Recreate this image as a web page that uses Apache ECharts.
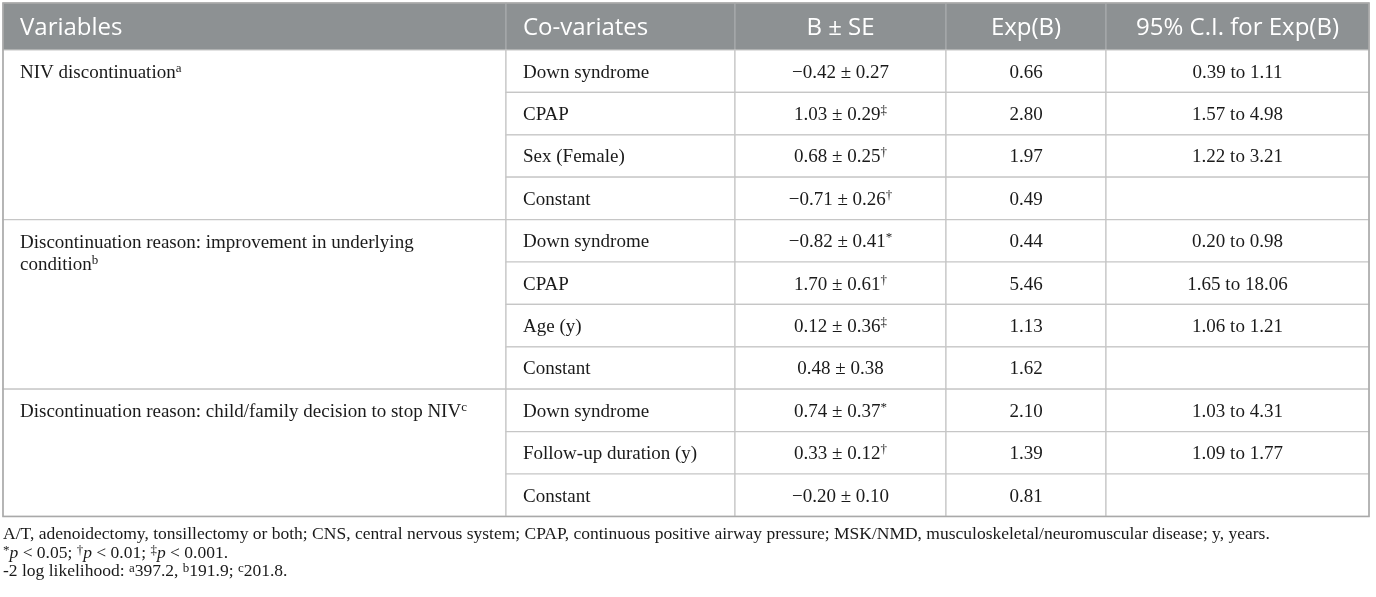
<!DOCTYPE html>
<html lang="en">
<head>
<meta charset="UTF-8">
<title>NIV discontinuation</title>
<script src="https://cdn.jsdelivr.net/npm/echarts@6/dist/echarts.min.js"></script>
<style>html,body{margin:0;padding:0;background:#fff;}</style>
</head>
<body>
<div id="main" style="width:1376px;height:597px;"></div>
<script>
// table content
var headers = ['Variables', 'Co-variates', 'B \u00b1 SE', 'Exp(B)', '95% C.I. for Exp(B)'];
var variables = [
  'NIV discontinuation{sup|a}',
  'Discontinuation reason: improvement in underlying\ncondition{sup|b}',
  'Discontinuation reason: child/family decision to stop NIV{sup|c}'
];
var groupSizes = [4, 4, 3];
var covariates = ['Down syndrome', 'CPAP', 'Sex (Female)', 'Constant',
  'Down syndrome', 'CPAP', 'Age (y)', 'Constant',
  'Down syndrome', 'Follow-up duration (y)', 'Constant'];
var bSE = ['\u22120.42 \u00b1 0.27', '1.03 \u00b1 0.29{sup|\u2021}', '0.68 \u00b1 0.25{sup|\u2020}', '\u22120.71 \u00b1 0.26{sup|\u2020}',
  '\u22120.82 \u00b1 0.41{sup|*}', '1.70 \u00b1 0.61{sup|\u2020}', '0.12 \u00b1 0.36{sup|\u2021}', '0.48 \u00b1 0.38',
  '0.74 \u00b1 0.37{sup|*}', '0.33 \u00b1 0.12{sup|\u2020}', '\u22120.20 \u00b1 0.10'];
var expB = ['0.66', '2.80', '1.97', '0.49', '0.44', '5.46', '1.13', '1.62', '2.10', '1.39', '0.81'];
var ciExpB = ['0.39 to 1.11', '1.57 to 4.98', '1.22 to 3.21', '',
  '0.20 to 0.98', '1.65 to 18.06', '1.06 to 1.21', '',
  '1.03 to 4.31', '1.09 to 1.77', ''];
var footnotes = [
  'A/T, adenoidectomy, tonsillectomy or both; CNS, central nervous system; CPAP, continuous positive airway pressure; MSK/NMD, musculoskeletal/neuromuscular disease; y, years.',
  '{fsup|*}{it|p} < 0.05; {fsup|\u2020}{it|p} < 0.01; {fsup|\u2021}{it|p} < 0.001.',
  '-2 log likelihood: {fsup|a}397.2, {fsup|b}191.9; {fsup|c}201.8.'
];

// layout
var colEdges = [3, 506, 735, 946, 1106, 1369];
var headTop = 3, headBottom = 50, rowH = 42.4;
var headFont = '"Open Sans", sans-serif';
var bodyFont = '"Liberation Serif", "Times New Roman", serif';
var richSup = {
  sup: { fontSize: 13, verticalAlign: 'top', lineHeight: 12, fontFamily: bodyFont, fill: '#1a1a1a' },
  fsup: { fontSize: 13, verticalAlign: 'top', lineHeight: 11, fontFamily: bodyFont, fill: '#1a1a1a' },
  it: { fontStyle: 'italic', fontFamily: bodyFont, fontSize: 17.5, fill: '#1a1a1a' }
};

var cells = [], cellText = [];
headers.forEach(function (h, c) { cells.push([c, -1, 1]); cellText.push(h); });
var r0 = 0;
groupSizes.forEach(function (n, g) {
  cells.push([0, r0, n]); cellText.push(variables[g]);
  r0 += n;
});
covariates.forEach(function (v, r) {
  cells.push([1, r, 1]); cellText.push(v);
  cells.push([2, r, 1]); cellText.push(bSE[r]);
  cells.push([3, r, 1]); cellText.push(expB[r]);
  cells.push([4, r, 1]); cellText.push(ciExpB[r]);
});
var nRows = covariates.length;
cells.push([-1, 0, nRows]); cellText.push('');

function rowY(r) { return r < 0 ? headTop : headBottom + r * rowH; }

function renderItem(params, api) {
  var col = api.value(0), row = api.value(1), span = api.value(2);
  var text = cellText[params.dataIndex];
  if (col < 0) {
    var a = api.coord([colEdges[0], headTop]);
    var b = api.coord([colEdges[colEdges.length - 1], rowY(nRows)]);
    return { type: 'rect', shape: { x: a[0], y: a[1], width: b[0] - a[0], height: b[1] - a[1] },
      style: { fill: 'none', stroke: '#a9a9a9', lineWidth: 1.5 }, z2: 10 };
  }
  var y0 = rowY(row), y1 = row < 0 ? headBottom : rowY(row + span);
  var p0 = api.coord([colEdges[col], y0]);
  var p1 = api.coord([colEdges[col + 1], y1]);
  var head = row < 0;
  var left = col < 2;
  var tx = left ? p0[0] + 17 : (p0[0] + p1[0]) / 2;
  var top = !head && col === 0;
  var ty = top ? p0[1] + 12 : (p0[1] + p1[1]) / 2 + (head ? 2 : 1.5);
  return {
    type: 'group',
    children: [{
      type: 'rect',
      shape: { x: p0[0], y: p0[1], width: p1[0] - p0[0], height: p1[1] - p0[1] },
      style: { fill: head ? '#8d9193' : '#fff', stroke: head ? '#a8abac' : '#c6c6c6', lineWidth: 1.2 }
    }, {
      type: 'text',
      x: tx, y: ty,
      style: {
        text: text,
        fill: head ? '#ffffff' : '#1a1a1a',
        fontFamily: head ? headFont : bodyFont,
        fontSize: head ? 24 : 19,
        lineHeight: 22,
        align: left ? 'left' : 'center',
        verticalAlign: top ? 'top' : 'middle',
        rich: richSup
      }
    }]
  };
}

var chart = echarts.init(document.getElementById('main'));
chart.setOption({
  animation: false,
  grid: { left: 0, right: 0, top: 0, bottom: 0 },
  xAxis: { type: 'value', min: 0, max: 1376, show: false },
  yAxis: { type: 'value', min: 0, max: 597, inverse: true, show: false },
  series: [{
    type: 'custom',
    renderItem: renderItem,
    data: cells,
    silent: true
  }],
  graphic: footnotes.map(function (t, i) {
    return {
      type: 'text',
      left: 3,
      top: 525 + i * 18.7,
      style: {
        text: t,
        fill: '#1a1a1a',
        fontFamily: bodyFont,
        fontSize: 17.5,
        lineHeight: 19,
        rich: richSup
      }
    };
  })
});
</script>
</body>
</html>
